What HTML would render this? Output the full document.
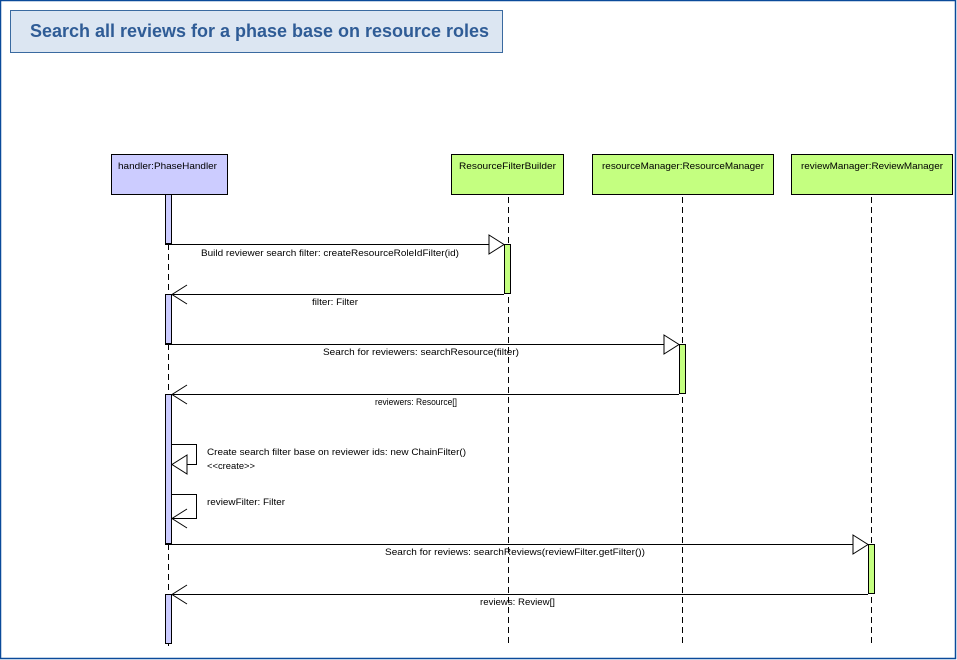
<!DOCTYPE html>
<html><head><meta charset="utf-8"><style>
html,body{margin:0;padding:0;background:#fff;}
svg{display:block;}
text{font-family:"Liberation Sans",Arial,sans-serif;font-size:9px;fill:#000;}
</style></head><body>
<svg width="957" height="660" viewBox="0 0 957 660" xmlns="http://www.w3.org/2000/svg">
<rect x="0.5" y="0.5" width="955" height="658" fill="#fff" stroke="#0a4a9a" stroke-width="1.5"/>
<rect x="10.5" y="10.5" width="492" height="42" fill="#dce6f2" stroke="#3a6aa0" stroke-width="1"/>
<text x="30" y="37" textLength="459" lengthAdjust="spacingAndGlyphs" style="font-size:18px;font-weight:bold;fill:#2f5c96">Search all reviews for a phase base on resource roles</text>

<g stroke="#000" stroke-width="1" stroke-dasharray="6,4" fill="none">
<line x1="168.5" y1="194" x2="168.5" y2="646"/>
<line x1="508.5" y1="197" x2="508.5" y2="646"/>
<line x1="682.5" y1="197" x2="682.5" y2="646"/>
<line x1="871.5" y1="197" x2="871.5" y2="646"/>
</g>

<g stroke="#000" stroke-width="1">
<rect x="111.5" y="154.5" width="116" height="40" fill="#ccccff"/>
<rect x="451.5" y="154.5" width="112" height="40" fill="#c4ff80"/>
<rect x="592.5" y="154.5" width="181" height="40" fill="#c4ff80"/>
<rect x="791.5" y="154.5" width="161" height="40" fill="#c4ff80"/>
</g>
<text x="118" y="169" textLength="99" lengthAdjust="spacingAndGlyphs">handler:PhaseHandler</text>
<text x="459" y="169" textLength="97" lengthAdjust="spacingAndGlyphs">ResourceFilterBuilder</text>
<text x="602" y="169" textLength="162" lengthAdjust="spacingAndGlyphs">resourceManager:ResourceManager</text>
<text x="801" y="169" textLength="142" lengthAdjust="spacingAndGlyphs">reviewManager:ReviewManager</text>

<g stroke="#000" stroke-width="1">
<rect x="165.5" y="194.5" width="6" height="49" fill="#ccccff"/>
<rect x="165.5" y="294.5" width="6" height="49" fill="#ccccff"/>
<rect x="165.5" y="394.5" width="6" height="149" fill="#ccccff"/>
<rect x="165.5" y="594.5" width="6" height="49" fill="#ccccff"/>
<rect x="504.5" y="244.5" width="6" height="49" fill="#c4ff80"/>
<rect x="679.5" y="344.5" width="6" height="49" fill="#c4ff80"/>
<rect x="868.5" y="544.5" width="6" height="49" fill="#c4ff80"/>
</g>

<g stroke="#000" stroke-width="1" fill="none">
<line x1="165" y1="244.5" x2="489" y2="244.5"/>
<polygon points="489,235 504,244.5 489,254" fill="#fff"/>
<line x1="504" y1="294.5" x2="172" y2="294.5"/>
<polyline points="187,285 172,294.5 187,304"/>
<line x1="165" y1="344.5" x2="664" y2="344.5"/>
<polygon points="664,335 679,344.5 664,354" fill="#fff"/>
<line x1="679" y1="394.5" x2="172" y2="394.5"/>
<polyline points="187,385 172,394.5 187,404"/>
<polyline points="172,444.5 196.5,444.5 196.5,464.5 187,464.5"/>
<polygon points="187,455 172,464.5 187,474" fill="#fff"/>
<polyline points="172,494.5 196.5,494.5 196.5,518.5 172,518.5"/>
<polyline points="187,509 172,518.5 187,528"/>
<line x1="165" y1="544.5" x2="853" y2="544.5"/>
<polygon points="853,535 868,544.5 853,554" fill="#fff"/>
<line x1="868" y1="594.5" x2="172" y2="594.5"/>
<polyline points="187,585 172,594.5 187,604"/>
</g>

<text x="201" y="256" textLength="258" lengthAdjust="spacingAndGlyphs">Build reviewer search filter: createResourceRoleIdFilter(id)</text>
<text x="312" y="305" textLength="46" lengthAdjust="spacingAndGlyphs">filter: Filter</text>
<text x="323" y="355" textLength="196" lengthAdjust="spacingAndGlyphs">Search for reviewers: searchResource(filter)</text>
<text x="375" y="405" textLength="82" lengthAdjust="spacingAndGlyphs">reviewers: Resource[]</text>
<text x="207" y="455" textLength="259" lengthAdjust="spacingAndGlyphs">Create search filter base on reviewer ids: new ChainFilter()</text>
<text x="207" y="469" textLength="48" lengthAdjust="spacingAndGlyphs">&lt;&lt;create&gt;&gt;</text>
<text x="207" y="505" textLength="78" lengthAdjust="spacingAndGlyphs">reviewFilter: Filter</text>
<text x="385" y="555" textLength="260" lengthAdjust="spacingAndGlyphs">Search for reviews: searchReviews(reviewFilter.getFilter())</text>
<text x="480" y="605" textLength="75" lengthAdjust="spacingAndGlyphs">reviews: Review[]</text>
</svg>
</body></html>
